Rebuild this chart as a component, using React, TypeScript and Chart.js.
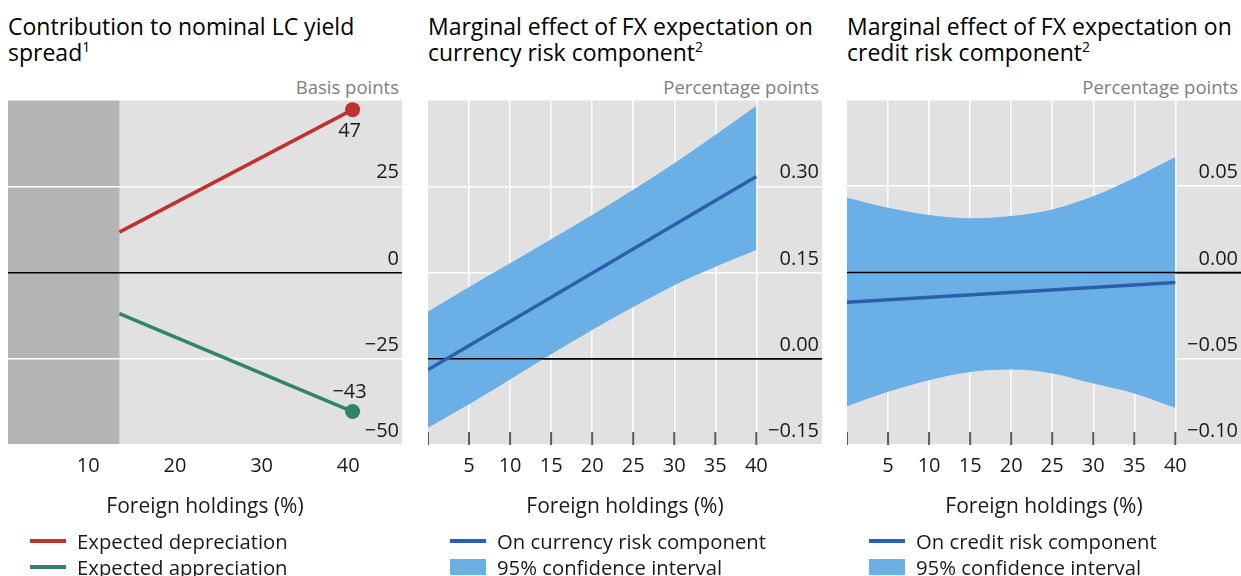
import React, { useEffect, useRef } from "react";
import { Chart, registerables } from "chart.js";

Chart.register(...registerables);

const FONT = "'Open Sans', 'Noto Sans', sans-serif";
const TEXT = "#1a1a1a";
const BG = "#e1e1e1";
const SHADE = "#b4b4b4";
const RED = "#c0312f";
const GREEN = "#2f8566";
const BAND = "#6aafe6";
const BLUE = "#2e5faa";

// ---------- Panel 1 data ----------
const p1X = [13.6, 40.5];
const p1Depreciation = [11.7, 47.2];
const p1Appreciation = [-11.9, -40.3];
const p1EndLabels = ["47", "−43"];
const p1XTicks = [10, 20, 30, 40];
const p1XLabels = ["10", "20", "30", "40"];
const p1YTicks = [-50, -25, 0, 25, 50];
const p1YLabels = ["−50", "−25", "0", "25", ""];
const p1ShadeTo = 13.6;

// ---------- Panels 2 & 3 shared x ----------
const bandX = [0, 5, 10, 15, 20, 25, 30, 35, 40];
const lineX = [0, 40];
const mfXTicks = [0, 5, 10, 15, 20, 25, 30, 35, 40];
const mfXLabels = ["", "5", "10", "15", "20", "25", "30", "35", "40"];

// ---------- Panel 2 data ----------
const p2Upper = [0.082, 0.125, 0.166, 0.208, 0.25, 0.294, 0.34, 0.389, 0.44];
const p2Lower = [-0.12, -0.079, -0.036, 0.008, 0.05, 0.09, 0.128, 0.16, 0.189];
const p2Line = [-0.019, 0.317];
const p2YTicks = [-0.15, 0, 0.15, 0.3, 0.45];
const p2YLabels = ["−0.15", "0.00", "0.15", "0.30", ""];

// ---------- Panel 3 data ----------
const p3Upper = [0.0433, 0.0375, 0.0333, 0.0314, 0.0327, 0.0365, 0.0442, 0.0548, 0.0669];
const p3Lower = [-0.0775, -0.0692, -0.0625, -0.0577, -0.0563, -0.0586, -0.0644, -0.0701, -0.0784];
const p3Line = [-0.0173, -0.0058];
const p3YTicks = [-0.1, -0.05, 0, 0.05, 0.1];
const p3YLabels = ["−0.10", "−0.05", "0.00", "0.05", ""];

const TICK_FONT = 20;

const pts = (xs: number[], ys: number[]) => xs.map((x, i) => ({ x, y: ys[i] }));

function bgPlugin(shadeTo?: number) {
  return {
    id: "bg",
    beforeDraw(chart: any) {
      const { ctx, chartArea: a, scales } = chart;
      ctx.save();
      ctx.fillStyle = BG;
      ctx.fillRect(a.left, a.top, a.right - a.left, a.bottom - a.top);
      if (shadeTo !== undefined) {
        const px = scales.x.getPixelForValue(shadeTo);
        ctx.fillStyle = SHADE;
        ctx.fillRect(a.left, a.top, px - a.left, a.bottom - a.top);
      }
      ctx.restore();
    },
  };
}

function yLabelPlugin(labels: string[]) {
  return {
    id: "ylabels",
    afterDatasetsDraw(chart: any) {
      const { ctx, chartArea: a, scales } = chart;
      const y = scales.y;
      ctx.save();
      ctx.font = `${TICK_FONT}px ${FONT}`;
      ctx.fillStyle = TEXT;
      ctx.textAlign = "right";
      ctx.textBaseline = "middle";
      y.ticks.forEach((t: any, i: number) => {
        const lab = labels[i];
        if (!lab) return;
        ctx.fillText(lab, a.right - 3, y.getPixelForValue(t.value) - 13.5);
      });
      ctx.restore();
    },
  };
}

const tickMarkPlugin = {
  id: "tickmarks",
  beforeDatasetsDraw(chart: any) {
    const { ctx, chartArea: a, scales } = chart;
    const x = scales.x;
    ctx.save();
    ctx.strokeStyle = "#5a5a5a";
    ctx.lineWidth = 2;
    ctx.beginPath();
    x.ticks.forEach((t: any) => {
      const px = x.getPixelForValue(t.value);
      ctx.moveTo(px, a.bottom);
      ctx.lineTo(px, a.bottom - 13);
    });
    ctx.stroke();
    ctx.restore();
  },
};

// zero line drawn over the confidence band (dataset 1), below the estimate line (dataset 0)
const zeroOverBandPlugin = {
  id: "zeroOverBand",
  afterDatasetDraw(chart: any, args: any) {
    if (args.index !== 1) return;
    const { ctx, chartArea: a, scales } = chart;
    const py = scales.y.getPixelForValue(0);
    ctx.save();
    ctx.strokeStyle = "#000000";
    ctx.lineWidth = 1.5;
    ctx.beginPath();
    ctx.moveTo(a.left, py);
    ctx.lineTo(a.right, py);
    ctx.stroke();
    ctx.restore();
  },
};

const endLabelPlugin = {
  id: "endlabels",
  afterDatasetsDraw(chart: any) {
    const { ctx } = chart;
    ctx.save();
    ctx.font = `${TICK_FONT}px ${FONT}`;
    ctx.fillStyle = TEXT;
    ctx.textAlign = "center";
    ctx.textBaseline = "middle";
    const offs = [22, -19];
    [0, 1].forEach((di) => {
      const meta = chart.getDatasetMeta(di);
      const el = meta.data[meta.data.length - 1];
      ctx.fillText(p1EndLabels[di], el.x - 3, el.y + offs[di]);
    });
    ctx.restore();
  },
};

function baseOptions(
  xmin: number,
  xmax: number,
  xTicks: number[],
  xLabels: string[],
  xGrid: boolean,
  ymin: number,
  ymax: number,
  yTicks: number[]
): any {
  return {
    responsive: false,
    animation: false,
    layout: { padding: 0, autoPadding: false },
    plugins: {
      legend: { display: false },
      tooltip: { enabled: false },
      title: { display: false },
    },
    scales: {
      x: {
        type: "linear",
        position: "bottom",
        min: xmin,
        max: xmax,
        afterBuildTicks: (s: any) => {
          s.ticks = xTicks.map((v) => ({ value: v }));
        },
        afterFit: (s: any) => {
          s.height = 90;
          s.paddingLeft = 0;
          s.paddingRight = 0;
        },
        grid: {
          display: xGrid,
          drawTicks: false,
          lineWidth: 1.5,
          color: (c: any) =>
            c.tick && c.tick.value === xTicks[0] && xmin === xTicks[0] ? "rgba(0,0,0,0)" : "#ffffff",
        },
        border: { display: false },
        ticks: {
          autoSkip: false,
          maxRotation: 0,
          minRotation: 0,
          padding: 9,
          color: TEXT,
          font: { size: TICK_FONT, family: FONT },
          callback: (_v: any, i: number) => xLabels[i],
        },
        title: {
          display: true,
          text: "Foreign holdings (%)",
          color: TEXT,
          font: { size: 21, family: FONT },
          padding: { top: 0, bottom: 15 },
        },
      },
      y: {
        type: "linear",
        position: "right",
        min: ymin,
        max: ymax,
        afterBuildTicks: (s: any) => {
          s.ticks = yTicks.map((v) => ({ value: v }));
        },
        afterFit: (s: any) => {
          s.width = 0;
          s.paddingTop = 0;
          s.paddingBottom = 0;
        },
        ticks: { display: false },
        grid: {
          drawTicks: false,
          color: (c: any) => (c.tick && c.tick.value === 0 ? "#000000" : "#ffffff"),
          lineWidth: 1.5,
        },
        border: { display: false },
      },
    },
  };
}

function makeConfig1(): any {
  return {
    type: "line",
    data: {
      datasets: [
        {
          label: "Expected depreciation",
          data: pts(p1X, p1Depreciation),
          borderColor: RED,
          backgroundColor: RED,
          borderWidth: 3.5,
          pointRadius: [0, 7.5],
          pointBackgroundColor: RED,
          pointBorderWidth: 0,
          fill: false,
        },
        {
          label: "Expected appreciation",
          data: pts(p1X, p1Appreciation),
          borderColor: GREEN,
          backgroundColor: GREEN,
          borderWidth: 3.5,
          pointRadius: [0, 7.5],
          pointBackgroundColor: GREEN,
          pointBorderWidth: 0,
          fill: false,
        },
      ],
    },
    options: baseOptions(0.75, 46.2, p1XTicks, p1XLabels, false, -50, 50, p1YTicks),
    plugins: [bgPlugin(p1ShadeTo), yLabelPlugin(p1YLabels), endLabelPlugin],
  };
}

function makeConfigMF(
  line: number[],
  upper: number[],
  lower: number[],
  ymin: number,
  ymax: number,
  yTicks: number[],
  yLabels: string[],
  lineLabel: string
): any {
  return {
    type: "line",
    data: {
      datasets: [
        {
          label: lineLabel,
          data: pts(lineX, line),
          borderColor: BLUE,
          borderWidth: 3.5,
          pointRadius: 0,
          fill: false,
        },
        {
          label: "95% confidence interval",
          data: pts(bandX, upper),
          borderColor: "rgba(0,0,0,0)",
          borderWidth: 0,
          pointRadius: 0,
          backgroundColor: BAND,
          cubicInterpolationMode: "monotone",
          fill: "+1",
        },
        {
          label: "lower",
          data: pts(bandX, lower),
          borderColor: "rgba(0,0,0,0)",
          borderWidth: 0,
          pointRadius: 0,
          cubicInterpolationMode: "monotone",
          fill: false,
        },
      ],
    },
    options: baseOptions(0, 48, mfXTicks, mfXLabels, true, ymin, ymax, yTicks),
    plugins: [bgPlugin(), tickMarkPlugin, zeroOverBandPlugin, yLabelPlugin(yLabels)],
  };
}

type LegendItem = { label: string; kind: "line" | "box"; color: string };

function Panel(props: {
  left: number;
  title: React.ReactNode;
  units: string;
  legend: LegendItem[];
  make: () => any;
}) {
  const ref = useRef<HTMLCanvasElement | null>(null);
  useEffect(() => {
    if (!ref.current) return;
    const chart = new Chart(ref.current, props.make());
    return () => chart.destroy();
  }, []);
  const W = 394;
  return (
    <>
      <div
        style={{
          position: "absolute",
          left: props.left,
          top: 13,
          width: 420,
          fontSize: 23,
          lineHeight: "26px",
          color: "#000",
          whiteSpace: "nowrap",
        }}
      >
        {props.title}
      </div>
      <div
        style={{
          position: "absolute",
          left: props.left,
          width: W - 3,
          top: 76,
          fontSize: 18.5,
          lineHeight: "22px",
          color: "#808080",
          textAlign: "right",
          whiteSpace: "nowrap",
        }}
      >
        {props.units}
      </div>
      <canvas
        ref={ref}
        width={W}
        height={435}
        style={{ position: "absolute", left: props.left, top: 100, width: W, height: 435 }}
      />
      {props.legend.map((it, i) => (
        <div
          key={i}
          style={{
            position: "absolute",
            left: props.left + 22,
            top: 541 + i * 26 - 13,
            height: 26,
            display: "flex",
            alignItems: "center",
            fontSize: 20.3,
            color: TEXT,
            whiteSpace: "nowrap",
          }}
        >
          <div
            style={{
              width: 36,
              height: it.kind === "line" ? 3.5 : 16,
              background: it.color,
              marginRight: 11,
              flexShrink: 0,
            }}
          />
          <span>{it.label}</span>
        </div>
      ))}
    </>
  );
}

const sup = (s: string) => (
  <span style={{ fontSize: 14, position: "relative", top: -9 }}>{s}</span>
);

export default function App() {
  return (
    <div
      style={{
        position: "fixed",
        left: 0,
        top: 0,
        width: 1241,
        height: 576,
        overflow: "hidden",
        background: "#fff",
        fontFamily: FONT,
      }}
    >
      <Panel
        left={8}
        title={
          <>
            Contribution to nominal LC yield
            <br />
            spread{sup("1")}
          </>
        }
        units="Basis points"
        legend={[
          { label: "Expected depreciation", kind: "line", color: RED },
          { label: "Expected appreciation", kind: "line", color: GREEN },
        ]}
        make={makeConfig1}
      />
      <Panel
        left={428}
        title={
          <>
            Marginal effect of FX expectation on
            <br />
            currency risk component{sup("2")}
          </>
        }
        units="Percentage points"
        legend={[
          { label: "On currency risk component", kind: "line", color: BLUE },
          { label: "95% confidence interval", kind: "box", color: BAND },
        ]}
        make={() =>
          makeConfigMF(p2Line, p2Upper, p2Lower, -0.15, 0.45, p2YTicks, p2YLabels, "On currency risk component")
        }
      />
      <Panel
        left={847}
        title={
          <>
            Marginal effect of FX expectation on
            <br />
            credit risk component{sup("2")}
          </>
        }
        units="Percentage points"
        legend={[
          { label: "On credit risk component", kind: "line", color: BLUE },
          { label: "95% confidence interval", kind: "box", color: BAND },
        ]}
        make={() =>
          makeConfigMF(p3Line, p3Upper, p3Lower, -0.1, 0.1, p3YTicks, p3YLabels, "On credit risk component")
        }
      />
    </div>
  );
}
